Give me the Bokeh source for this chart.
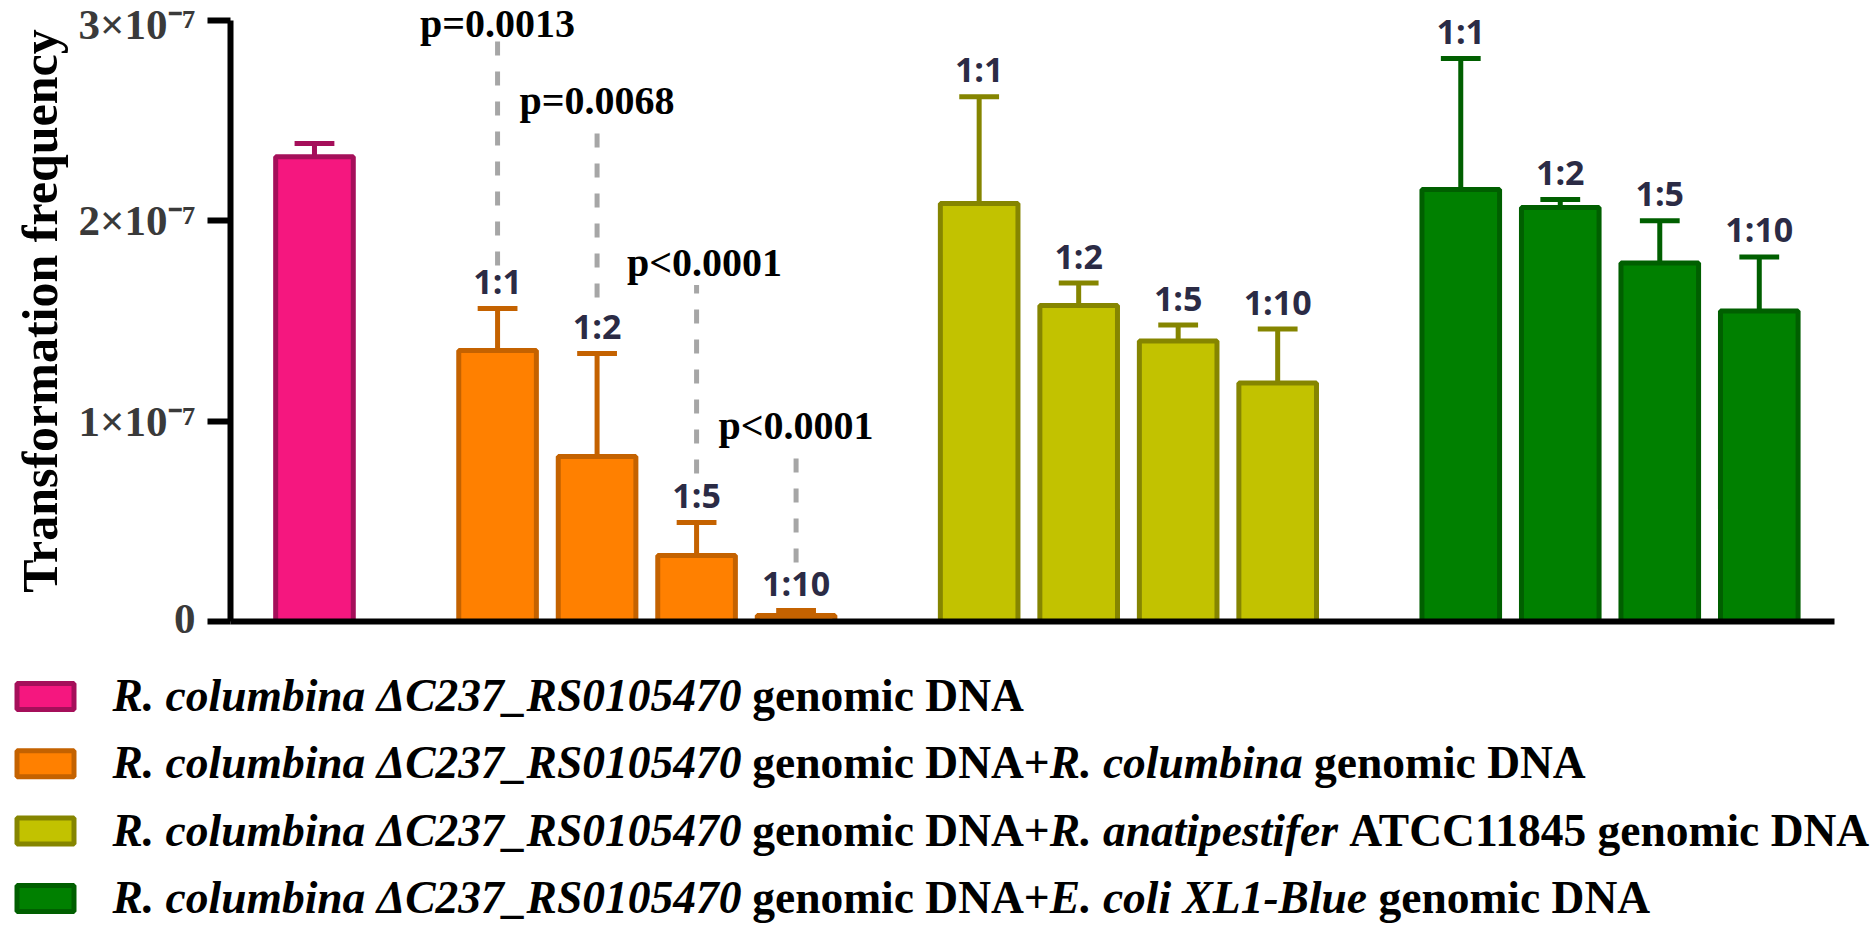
from bokeh.plotting import figure
from bokeh.models import Range1d, FixedTicker, ColumnDataSource
from bokeh.layouts import column
from bokeh.embed import file_html
from bokeh.resources import INLINE
from bokeh.core.properties import value

# ---------------- data (values in units of 1e-7) ----------------
ratios = ["1:1", "1:2", "1:5", "1:10"]
pink_mean = [2.32]
pink_upper = [2.386]
orange_mean = [1.353, 0.824, 0.33, 0.03]
orange_upper = [1.563, 1.338, 0.494, 0.055]
olive_mean = [2.087, 1.578, 1.40, 1.19]
olive_upper = [2.62, 1.69, 1.48, 1.46]
green_mean = [2.157, 2.067, 1.79, 1.55]
green_upper = [2.81, 2.107, 2.00, 1.82]

y_ticks = [0, 1, 2, 3]
y_tick_labels = ["0", "1×10⁻⁷", "2×10⁻⁷", "3×10⁻⁷"]

p_texts = ["p=0.0013", "p=0.0068", "p<0.0001", "p<0.0001"]
p_text_y = [2.985, 2.601, 1.790, 0.978]
p_line_top = [2.90, 2.44, 1.68, 0.834]
p_line_bottom = [1.777, 1.617, 0.739, 0.2945]

legend_parts = [
    [("R. columbina ΔC237_RS0105470", True), (" genomic DNA", False)],
    [("R. columbina ΔC237_RS0105470", True), (" genomic DNA+", False),
     ("R. columbina", True), (" genomic DNA", False)],
    [("R. columbina ΔC237_RS0105470", True), (" genomic DNA+", False),
     ("R. anatipestifer", True), (" ATCC11845 genomic DNA", False)],
    [("R. columbina ΔC237_RS0105470", True), (" genomic DNA+", False),
     ("E. coli XL1-Blue", True), (" genomic DNA", False)],
]

# ---------------- styles ----------------
fills = ["#F5177F", "#FF8000", "#C2C200", "#008000"]
lines = ["#A50F5A", "#C46200", "#858500", "#005F00"]
group_means = [pink_mean, orange_mean, olive_mean, green_mean]
group_uppers = [pink_upper, orange_upper, olive_upper, green_upper]
GAP = 1.84
BAR_W = 0.78
CAP_HW = 0.2
LABEL_LIFT = 0.137   # ratio label centre above the error cap (data units)
P_DX = [0, 0, 8, 0]  # small horizontal nudges of the p-value texts (px)
SERIF = "Liberation Serif"

positions = []
start = 0.0
for g, vals in enumerate(group_means):
    positions.append([start + i for i in range(len(vals))])
    start = start + len(vals) - 1 + GAP

W = 1874
H_MAIN = 641
H_LEG = 926 - H_MAIN

p = figure(width=W, height=H_MAIN, x_range=Range1d(-0.844, 15.276),
           y_range=Range1d(0, 3.10), output_backend="svg",
           toolbar_location=None, min_border_left=230, min_border_right=40,
           min_border_top=0, min_border_bottom=20)
p.frame_align = False
p.xgrid.visible = False
p.ygrid.visible = False
p.outline_line_color = None
p.background_fill_color = "white"
p.border_fill_color = "white"

for g in range(4):
    xs = positions[g]
    src = ColumnDataSource(dict(x=xs, top=group_means[g], up=group_uppers[g],
                                x0=[x - CAP_HW for x in xs], x1=[x + CAP_HW for x in xs],
                                ly=[u + LABEL_LIFT for u in group_uppers[g]]))
    p.segment(x0="x", y0="top", x1="x", y1="up", source=src,
              line_color=lines[g], line_width=5)
    p.segment(x0="x0", y0="up", x1="x1", y1="up", source=src,
              line_color=lines[g], line_width=5)
    p.vbar(x="x", top="top", bottom=0, width=BAR_W, source=src,
           fill_color=fills[g], line_color=lines[g], line_width=5)
    if g > 0:
        src.data["t"] = ratios
        p.text(x="x", y="ly", text="t", source=src, text_align="center",
               text_baseline="middle",
               text_font=value("Open Sans"), text_font_style="bold",
               text_font_size="34px", text_color="#2B2B45")

# p-value annotations over the orange bars
psrc = ColumnDataSource(dict(x=positions[1], ty=p_text_y, t=p_texts,
                             y0=p_line_bottom, y1=p_line_top, dx=P_DX))
p.segment(x0="x", y0="y0", x1="x", y1="y1", source=psrc,
          line_color="#A6A6A6", line_width=5, line_dash="14 16")
p.text(x="x", y="ty", text="t", source=psrc, text_align="center",
       x_offset="dx", text_baseline="middle", text_font=value(SERIF),
       text_font_style="bold", text_font_size="40px", text_color="black")

# axes
ya = p.yaxis[0]
ya.ticker = FixedTicker(ticks=y_ticks)
ya.major_label_overrides = {t: l for t, l in zip(y_ticks, y_tick_labels)}
ya.bounds = (0, 3)
ya.axis_line_width = 6
ya.axis_line_color = "black"
ya.major_tick_line_width = 6
ya.major_tick_line_color = "black"
ya.major_tick_out = 23
ya.major_tick_in = 0
ya.minor_tick_out = 0
ya.minor_tick_in = 0
ya.major_label_text_font = SERIF
ya.major_label_text_font_size = "43px"
ya.major_label_text_font_style = "bold"
ya.major_label_text_color = "#3A3A3A"
ya.major_label_standoff = 12
ya.axis_label = "Transformation frequency"
ya.axis_label_text_font = SERIF
ya.axis_label_text_font_size = "50px"
ya.axis_label_text_font_style = "bold"
ya.axis_label_text_color = "black"
ya.axis_label_standoff = 8

xa = p.xaxis[0]
xa.ticker = FixedTicker(ticks=[])
xa.major_label_text_font_size = "0px"
xa.major_tick_out = 0
xa.major_tick_in = 0
xa.minor_tick_out = 0
xa.minor_tick_in = 0
xa.axis_line_width = 6
xa.axis_line_color = "black"
xa.major_label_standoff = 0

# ---------------- legend figure ----------------
leg = figure(width=W, height=H_LEG, x_range=Range1d(0, W), y_range=Range1d(H_LEG, 0),
             output_backend="svg", toolbar_location=None, min_border=0,
             min_border_left=0, min_border_right=0, min_border_top=0, min_border_bottom=0,
             x_axis_type=None, y_axis_type=None)
leg.frame_align = False
leg.outline_line_color = None
leg.grid.visible = False
leg.background_fill_color = "white"
leg.border_fill_color = "white"

UP_W = {' ': 250, 'g': 500, 'e': 444, 'n': 556, 'o': 500, 'm': 833, 'i': 278,
        'c': 444, 'D': 722, 'N': 722, 'A': 722, '+': 570, 'T': 667, 'C': 722}
IT_W = {'R': 667, '.': 250, ' ': 250, 'c': 444, 'o': 500, 'l': 278, 'u': 556,
        'm': 778, 'b': 500, 'i': 278, 'n': 556, 'a': 500, 'Δ': 612, 'C': 667,
        '_': 500, 'S': 556, 'E': 667, 'X': 667, 'L': 611, '-': 333, 'B': 667,
        'e': 444, 'p': 500, 't': 278, 's': 389, 'f': 333, 'r': 389}


def text_width(s, italic, size):
    table = IT_W if italic else UP_W
    return sum(table.get(ch, 500) for ch in s) * size / 1000.0


LEG_FONT = 45.5
ROW0 = 54        # centre of first legend row (legend-figure pixels from its top)
ROW_STEP = 67.3
TEXT_X = 112
SW_X = 45
it = dict(x=[], y=[], t=[])
up = dict(x=[], y=[], t=[])
sw = dict(x=[], y=[], f=[], l=[])
for r, parts in enumerate(legend_parts):
    cy = ROW0 + r * ROW_STEP
    sw["x"].append(SW_X)
    sw["y"].append(cy + 1)
    sw["f"].append(fills[r])
    sw["l"].append(lines[r])
    cx = TEXT_X
    for txt, italic in parts:
        stripped = txt.lstrip(" ")
        cx += text_width(txt[:len(txt) - len(stripped)], italic, LEG_FONT)
        d = it if italic else up
        d["x"].append(cx)
        d["y"].append(cy)
        d["t"].append(stripped)
        cx += text_width(stripped, italic, LEG_FONT)

leg.rect(x="x", y="y", width=57, height=26, source=ColumnDataSource(sw),
         fill_color="f", line_color="l", line_width=5)
leg.text(x="x", y="y", text="t", source=ColumnDataSource(it),
         text_baseline="middle", text_align="left",
         text_font=value(SERIF), text_font_style="bold italic",
         text_font_size=f"{LEG_FONT}px", text_color="black")
leg.text(x="x", y="y", text="t", source=ColumnDataSource(up),
         text_baseline="middle", text_align="left",
         text_font=value(SERIF), text_font_style="bold",
         text_font_size=f"{LEG_FONT}px", text_color="black")

layout = column(p, leg, spacing=0)
open("out.html", "w").write(file_html(layout, INLINE))
